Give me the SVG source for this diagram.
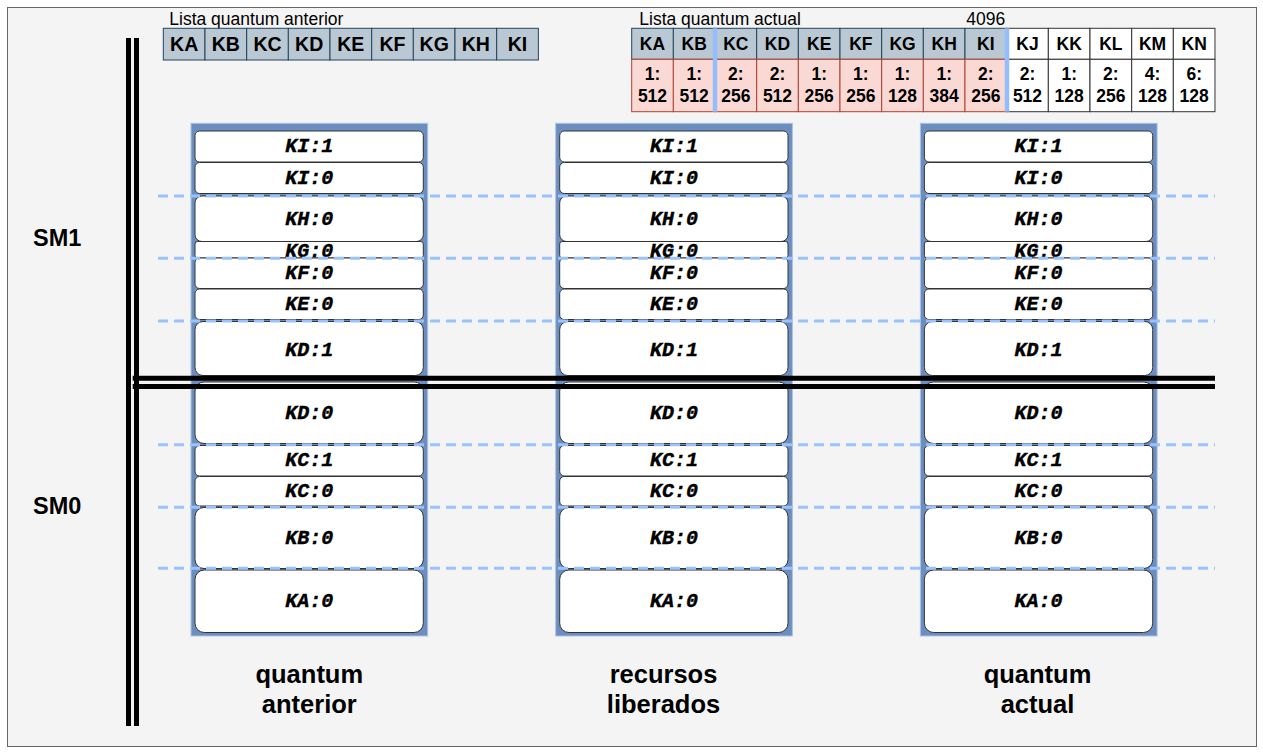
<svg xmlns="http://www.w3.org/2000/svg" width="1263" height="753" viewBox="0 0 1263 753">
  <style>
    .sans { font-family: "Liberation Sans", Arial, Helvetica, sans-serif; fill: #000; }
    .mono { font-family: "Liberation Mono", "Courier New", monospace; font-weight: bold; font-style: italic; font-size: 20px; fill: #000; stroke: #000; stroke-width: 0.4; text-anchor: middle; }
    .hdr { fill: #bac8d3; stroke: #23445d; stroke-width: 1; }
    .val { fill: #fad9d5; stroke: #ae4132; stroke-width: 1; }
    .new { fill: #ffffff; stroke: #333333; stroke-width: 1; }
    .cell { font-family: "Liberation Sans", Arial, Helvetica, sans-serif; font-weight: bold; font-size: 17.5px; text-anchor: middle; fill: #000; }
    .cellL { font-family: "Liberation Sans", Arial, Helvetica, sans-serif; font-weight: bold; font-size: 19.5px; text-anchor: middle; fill: #000; }
    .frame { fill: #6c8ebf; stroke: #a9c3e6; stroke-width: 1; }
    .box { fill: #ffffff; stroke: #333333; stroke-width: 1; }
    .sep { stroke: #94bdfc; stroke-width: 4.5; }
    .dash { stroke: #99c2ff; stroke-width: 3; stroke-dasharray: 10 6; fill: none; }
    .bar { stroke: #000; stroke-width: 5; fill: none; }
    .sm { font-family: "Liberation Sans", Arial, Helvetica, sans-serif; font-weight: bold; font-size: 23.5px; fill: #000; }
    .cap { font-family: "Liberation Sans", Arial, Helvetica, sans-serif; font-weight: bold; font-size: 25.5px; fill: #000; text-anchor: middle; }
  </style>
  <defs>
    <!-- one memory column: blue frame with the stacked kernel blocks -->
    <g id="stack">
      <rect class="frame" x="191" y="123.3" width="236.7" height="512.7"/>
      <rect class="box" x="195" y="131" width="228.3" height="31" rx="4.6"/>
      <text class="mono" x="309.2" y="152.3">KI:1</text>
      <rect class="box" x="195" y="162.5" width="228.3" height="31" rx="4.6"/>
      <text class="mono" x="309.2" y="184">KI:0</text>
      <rect class="box" x="195" y="196" width="228.3" height="45.5" rx="6.8"/>
      <text class="mono" x="309.2" y="224.5">KH:0</text>
      <rect class="box" x="195" y="241.5" width="228.3" height="16.5" rx="2.5"/>
      <text class="mono" x="309.2" y="256.5">KG:0</text>
      <rect class="box" x="195" y="258" width="228.3" height="30.5" rx="4.6"/>
      <text class="mono" x="309.2" y="279">KF:0</text>
      <rect class="box" x="195" y="289" width="228.3" height="30.5" rx="4.6"/>
      <text class="mono" x="309.2" y="310">KE:0</text>
      <rect class="box" x="195" y="321.5" width="228.3" height="54" rx="8"/>
      <text class="mono" x="309.2" y="356">KD:1</text>
      <rect class="box" x="195" y="382" width="228.3" height="61.5" rx="9"/>
      <text class="mono" x="309.2" y="419">KD:0</text>
      <rect class="box" x="195" y="445.5" width="228.3" height="30.5" rx="4.6"/>
      <text class="mono" x="309.2" y="466">KC:1</text>
      <rect class="box" x="195" y="476.5" width="228.3" height="29.5" rx="4.5"/>
      <text class="mono" x="309.2" y="497">KC:0</text>
      <rect class="box" x="195" y="507.5" width="228.3" height="61" rx="9"/>
      <text class="mono" x="309.2" y="543.5">KB:0</text>
      <rect class="box" x="195" y="570" width="228.3" height="62.5" rx="9.3"/>
      <text class="mono" x="309.2" y="607">KA:0</text>
    </g>
  </defs>

  <!-- page background -->
  <rect x="0" y="0" width="1263" height="753" fill="#ffffff"/>
  <rect x="7.5" y="7.5" width="1249" height="739" fill="#f4f4f4" stroke="#666666" stroke-width="1"/>

  <!-- previous quantum list -->
  <g id="lista-anterior">
    <text class="sans" x="169.3" y="25" font-size="17.5">Lista quantum anterior</text>
    <rect class="hdr" x="163.3" y="28.3" width="41.67" height="31.7"/>
    <rect class="hdr" x="205" y="28.3" width="41.67" height="31.7"/>
    <rect class="hdr" x="246.7" y="28.3" width="41.67" height="31.7"/>
    <rect class="hdr" x="288.3" y="28.3" width="41.67" height="31.7"/>
    <rect class="hdr" x="330" y="28.3" width="41.67" height="31.7"/>
    <rect class="hdr" x="371.7" y="28.3" width="41.67" height="31.7"/>
    <rect class="hdr" x="413.3" y="28.3" width="41.67" height="31.7"/>
    <rect class="hdr" x="455" y="28.3" width="41.67" height="31.7"/>
    <rect class="hdr" x="496.7" y="28.3" width="41.67" height="31.7"/>
    <text class="cellL" x="184.2" y="51">KA</text>
    <text class="cellL" x="225.8" y="51">KB</text>
    <text class="cellL" x="267.5" y="51">KC</text>
    <text class="cellL" x="309.2" y="51">KD</text>
    <text class="cellL" x="350.8" y="51">KE</text>
    <text class="cellL" x="392.5" y="51">KF</text>
    <text class="cellL" x="434.2" y="51">KG</text>
    <text class="cellL" x="475.8" y="51">KH</text>
    <text class="cellL" x="517.5" y="51">KI</text>
  </g>

  <!-- current quantum list -->
  <g id="lista-actual">
    <text class="sans" x="639.3" y="25" font-size="17.5">Lista quantum actual</text>
    <text class="sans" x="985.8" y="25" font-size="17.5" text-anchor="middle">4096</text>
    <g>
      <rect class="hdr" x="631.7" y="28.3" width="41.67" height="31"/>
      <rect class="hdr" x="673.3" y="28.3" width="41.67" height="31"/>
      <rect class="hdr" x="715" y="28.3" width="41.67" height="31"/>
      <rect class="hdr" x="756.7" y="28.3" width="41.67" height="31"/>
      <rect class="hdr" x="798.3" y="28.3" width="41.67" height="31"/>
      <rect class="hdr" x="840" y="28.3" width="41.67" height="31"/>
      <rect class="hdr" x="881.7" y="28.3" width="41.67" height="31"/>
      <rect class="hdr" x="923.3" y="28.3" width="41.67" height="31"/>
      <rect class="hdr" x="965" y="28.3" width="41.67" height="31"/>
      <rect class="new" x="1006.7" y="28.3" width="41.67" height="31"/>
      <rect class="new" x="1048.3" y="28.3" width="41.67" height="31"/>
      <rect class="new" x="1090" y="28.3" width="41.67" height="31"/>
      <rect class="new" x="1131.7" y="28.3" width="41.67" height="31"/>
      <rect class="new" x="1173.3" y="28.3" width="41.67" height="31"/>

      <rect class="val" x="631.7" y="59.3" width="41.67" height="52.4"/>
      <rect class="val" x="673.3" y="59.3" width="41.67" height="52.4"/>
      <rect class="val" x="715" y="59.3" width="41.67" height="52.4"/>
      <rect class="val" x="756.7" y="59.3" width="41.67" height="52.4"/>
      <rect class="val" x="798.3" y="59.3" width="41.67" height="52.4"/>
      <rect class="val" x="840" y="59.3" width="41.67" height="52.4"/>
      <rect class="val" x="881.7" y="59.3" width="41.67" height="52.4"/>
      <rect class="val" x="923.3" y="59.3" width="41.67" height="52.4"/>
      <rect class="val" x="965" y="59.3" width="41.67" height="52.4"/>
      <rect class="new" x="1006.7" y="59.3" width="41.67" height="52.4"/>
      <rect class="new" x="1048.3" y="59.3" width="41.67" height="52.4"/>
      <rect class="new" x="1090" y="59.3" width="41.67" height="52.4"/>
      <rect class="new" x="1131.7" y="59.3" width="41.67" height="52.4"/>
      <rect class="new" x="1173.3" y="59.3" width="41.67" height="52.4"/>
    </g>
    <g>
      <text class="cell" x="652.5" y="50">KA</text>
      <text class="cell" x="694.2" y="50">KB</text>
      <text class="cell" x="735.8" y="50">KC</text>
      <text class="cell" x="777.5" y="50">KD</text>
      <text class="cell" x="819.2" y="50">KE</text>
      <text class="cell" x="860.8" y="50">KF</text>
      <text class="cell" x="902.5" y="50">KG</text>
      <text class="cell" x="944.2" y="50">KH</text>
      <text class="cell" x="985.8" y="50">KI</text>
      <text class="cell" x="1027.5" y="50">KJ</text>
      <text class="cell" x="1069.2" y="50">KK</text>
      <text class="cell" x="1110.8" y="50">KL</text>
      <text class="cell" x="1152.5" y="50">KM</text>
      <text class="cell" x="1194.2" y="50">KN</text>
    </g>
    <g>
      <text class="cell" x="652.5" y="80">1:<tspan x="652.5" y="101.7">512</tspan></text>
      <text class="cell" x="694.2" y="80">1:<tspan x="694.2" y="101.7">512</tspan></text>
      <text class="cell" x="735.8" y="80">2:<tspan x="735.8" y="101.7">256</tspan></text>
      <text class="cell" x="777.5" y="80">2:<tspan x="777.5" y="101.7">512</tspan></text>
      <text class="cell" x="819.2" y="80">1:<tspan x="819.2" y="101.7">256</tspan></text>
      <text class="cell" x="860.8" y="80">1:<tspan x="860.8" y="101.7">256</tspan></text>
      <text class="cell" x="902.5" y="80">1:<tspan x="902.5" y="101.7">128</tspan></text>
      <text class="cell" x="944.2" y="80">1:<tspan x="944.2" y="101.7">384</tspan></text>
      <text class="cell" x="985.8" y="80">2:<tspan x="985.8" y="101.7">256</tspan></text>
      <text class="cell" x="1027.5" y="80">2:<tspan x="1027.5" y="101.7">512</tspan></text>
      <text class="cell" x="1069.2" y="80">1:<tspan x="1069.2" y="101.7">128</tspan></text>
      <text class="cell" x="1110.8" y="80">2:<tspan x="1110.8" y="101.7">256</tspan></text>
      <text class="cell" x="1152.5" y="80">4:<tspan x="1152.5" y="101.7">128</tspan></text>
      <text class="cell" x="1194.2" y="80">6:<tspan x="1194.2" y="101.7">128</tspan></text>
    </g>
    <line class="sep" x1="715" y1="28.3" x2="715" y2="111.7"/>
    <line class="sep" x1="1007" y1="28.3" x2="1007" y2="111.7"/>
  </g>

  <!-- the three memory columns -->
  <g id="col-quantum-anterior"><use href="#stack"/></g>
  <g id="col-recursos-liberados"><use href="#stack" transform="translate(364.7 0)"/></g>
  <g id="col-quantum-actual"><use href="#stack" transform="translate(729.4 0)"/></g>

  <!-- block boundary guides and SM dividers -->
  <g id="connectors">
    <line class="dash" x1="158" y1="196" x2="1215" y2="196"/>
    <line class="dash" x1="158" y1="258.3" x2="1215" y2="258.3"/>
    <line class="dash" x1="158" y1="321" x2="1215" y2="321"/>
    <line class="dash" x1="158" y1="444.7" x2="1215" y2="444.7"/>
    <line class="dash" x1="158" y1="507.3" x2="1215" y2="507.3"/>
    <line class="dash" x1="158" y1="568.3" x2="1215" y2="568.3"/>

    <line class="bar" x1="128.5" y1="38" x2="128.5" y2="726"/>
    <line class="bar" x1="136.5" y1="38" x2="136.5" y2="726"/>
    <line class="bar" x1="132.7" y1="378.2" x2="1215" y2="378.2"/>
    <line class="bar" x1="132.7" y1="386.4" x2="1215" y2="386.4"/>
  </g>

  <!-- SM labels -->
  <g id="sm1"><text class="sm" x="33" y="246">SM1</text></g>
  <g id="sm0"><text class="sm" x="33" y="514">SM0</text></g>

  <!-- column captions -->
  <g id="cap-anterior">
    <text class="cap" x="309.3" y="683.3">quantum</text>
    <text class="cap" x="309.3" y="713.3">anterior</text>
  </g>
  <g id="cap-liberados">
    <text class="cap" x="663.5" y="683.3">recursos</text>
    <text class="cap" x="663.5" y="713.3">liberados</text>
  </g>
  <g id="cap-actual">
    <text class="cap" x="1037.5" y="683.3">quantum</text>
    <text class="cap" x="1037.5" y="713.3">actual</text>
  </g>
</svg>
